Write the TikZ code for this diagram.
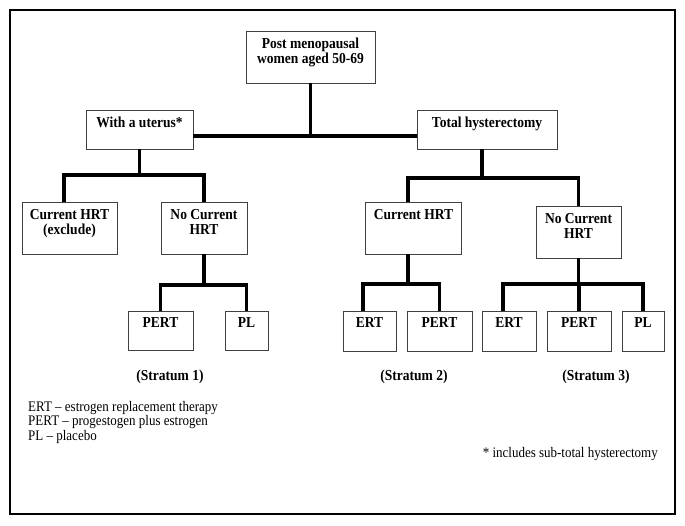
\documentclass[tikz,border=0pt]{standalone}
\usepackage{fontspec}
\setmainfont{Liberation Serif}[FakeStretch=0.89]
\tikzset{
  box/.style={draw=black!75, line width=0.8pt, inner sep=0pt},
  boxtext/.style={font=\fontsize{15.2}{15}\selectfont\bfseries, align=center, inner sep=0pt, anchor=north, yshift=-7.2pt},
  conn/.style={line width=3.3pt},
  stratum/.style={font=\fontsize{15.2}{15}\selectfont\bfseries},
  legend/.style={font=\fontsize{14.6}{15}\selectfont, inner sep=0pt},
}

\begin{document}
\begin{tikzpicture}[x=1pt, y=-1pt]
  \useasboundingbox (0,0) rectangle (685,526);
  \draw[line width=1.6pt] (10,10) rectangle (675,514);
  % boxes
  \node[box, minimum width=129pt, minimum height=52pt, label={[boxtext]north:{Post menopausal\\women aged 50-69}}] (top) at (310.5,57) {};
  \node[box, minimum width=107pt, minimum height=39pt, label={[boxtext]north:{With a uterus*}}] (uterus) at (139.5,129.5) {};
  \node[box, minimum width=140pt, minimum height=39pt, label={[boxtext]north:{Total hysterectomy}}] (hyst) at (487,129.5) {};
  \node[box, minimum width=95pt, minimum height=52pt, label={[boxtext]north:{Current HRT\\(exclude)}}] (cur1) at (69.5,228) {};
  \node[box, minimum width=86pt, minimum height=52pt, label={[boxtext]north:{No Current\\HRT}}] (nocur1) at (204,228) {};
  \node[box, minimum width=96pt, minimum height=52pt, label={[boxtext]north:{Current HRT}}] (cur2) at (413.5,228) {};
  \node[box, minimum width=85pt, minimum height=52pt, label={[boxtext]north:{No Current\\HRT}}] (nocur2) at (578.5,232) {};
  \node[box, minimum width=65pt, minimum height=39pt, label={[boxtext]north:{PERT}}] (pert1) at (160.5,330.5) {};
  \node[box, minimum width=43pt, minimum height=39pt, label={[boxtext]north:{PL}}] (pl1) at (246.5,330.5) {};
  \node[box, minimum width=53pt, minimum height=40pt, label={[boxtext]north:{ERT}}] (ert2) at (369.5,331) {};
  \node[box, minimum width=65pt, minimum height=40pt, label={[boxtext]north:{PERT}}] (pert2) at (439.5,331) {};
  \node[box, minimum width=54pt, minimum height=40pt, label={[boxtext]north:{ERT}}] (ert3) at (509,331) {};
  \node[box, minimum width=64pt, minimum height=40pt, label={[boxtext]north:{PERT}}] (pert3) at (579,331) {};
  \node[box, minimum width=42pt, minimum height=40pt, label={[boxtext]north:{PL}}] (pl3) at (643,331) {};
  % junctions
  \coordinate (j0) at (311,136);
  \coordinate (j1) at (139.5,175);
  \coordinate (j2) at (204,285);
  \coordinate (j3) at (482,178);
  \coordinate (j4) at (408,284);
  \coordinate (j5) at (578.5,284);
  % connectors
  \draw[conn] (top.south) -- (top.south |- j0);
  \draw[conn] (uterus.east |- j0) -- (hyst.west |- j0);
  \draw[conn] (uterus.south) -- (j1);
  \draw[conn] ([xshift=-5.5pt]cur1.north) |- (j1) -| (nocur1.north);
  \draw[conn] (nocur1.south) -- (j2);
  \draw[conn] (pert1.north) |- (j2) -| (pl1.north);
  \draw[conn] (j3 |- hyst.south) -- (j3);
  \draw[conn] ([xshift=-5.5pt]cur2.north) |- (j3) -| (nocur2.north);
  \draw[conn] (j4 |- cur2.south) -- (j4);
  \draw[conn] ([xshift=-6.5pt]ert2.north) |- (j4) -| (pert2.north);
  \draw[conn] (nocur2.south) -- (j5);
  \draw[conn] ([xshift=-6pt]ert3.north) |- (j5) -| (pl3.north);
  \draw[conn] (pert3.north) -- (pert3.north |- j5);
  % strata
  \node[stratum] (strat1) at (170,377) {(Stratum 1)};
  \node[stratum] (strat2) at (414,377) {(Stratum 2)};
  \node[stratum] (strat3) at (596,377) {(Stratum 3)};
  % legend
  \node[legend, anchor=base west] (lert) at (28,411) {ERT -- estrogen replacement therapy};
  \node[legend, anchor=base west] (lpert) at (28,425.5) {PERT -- progestogen plus estrogen};
  \node[legend, anchor=base west] (lpl) at (28,440) {PL -- placebo};
  \node[legend, anchor=base east] (note) at (658,457) {* includes sub-total hysterectomy};
\end{tikzpicture}
\end{document}
